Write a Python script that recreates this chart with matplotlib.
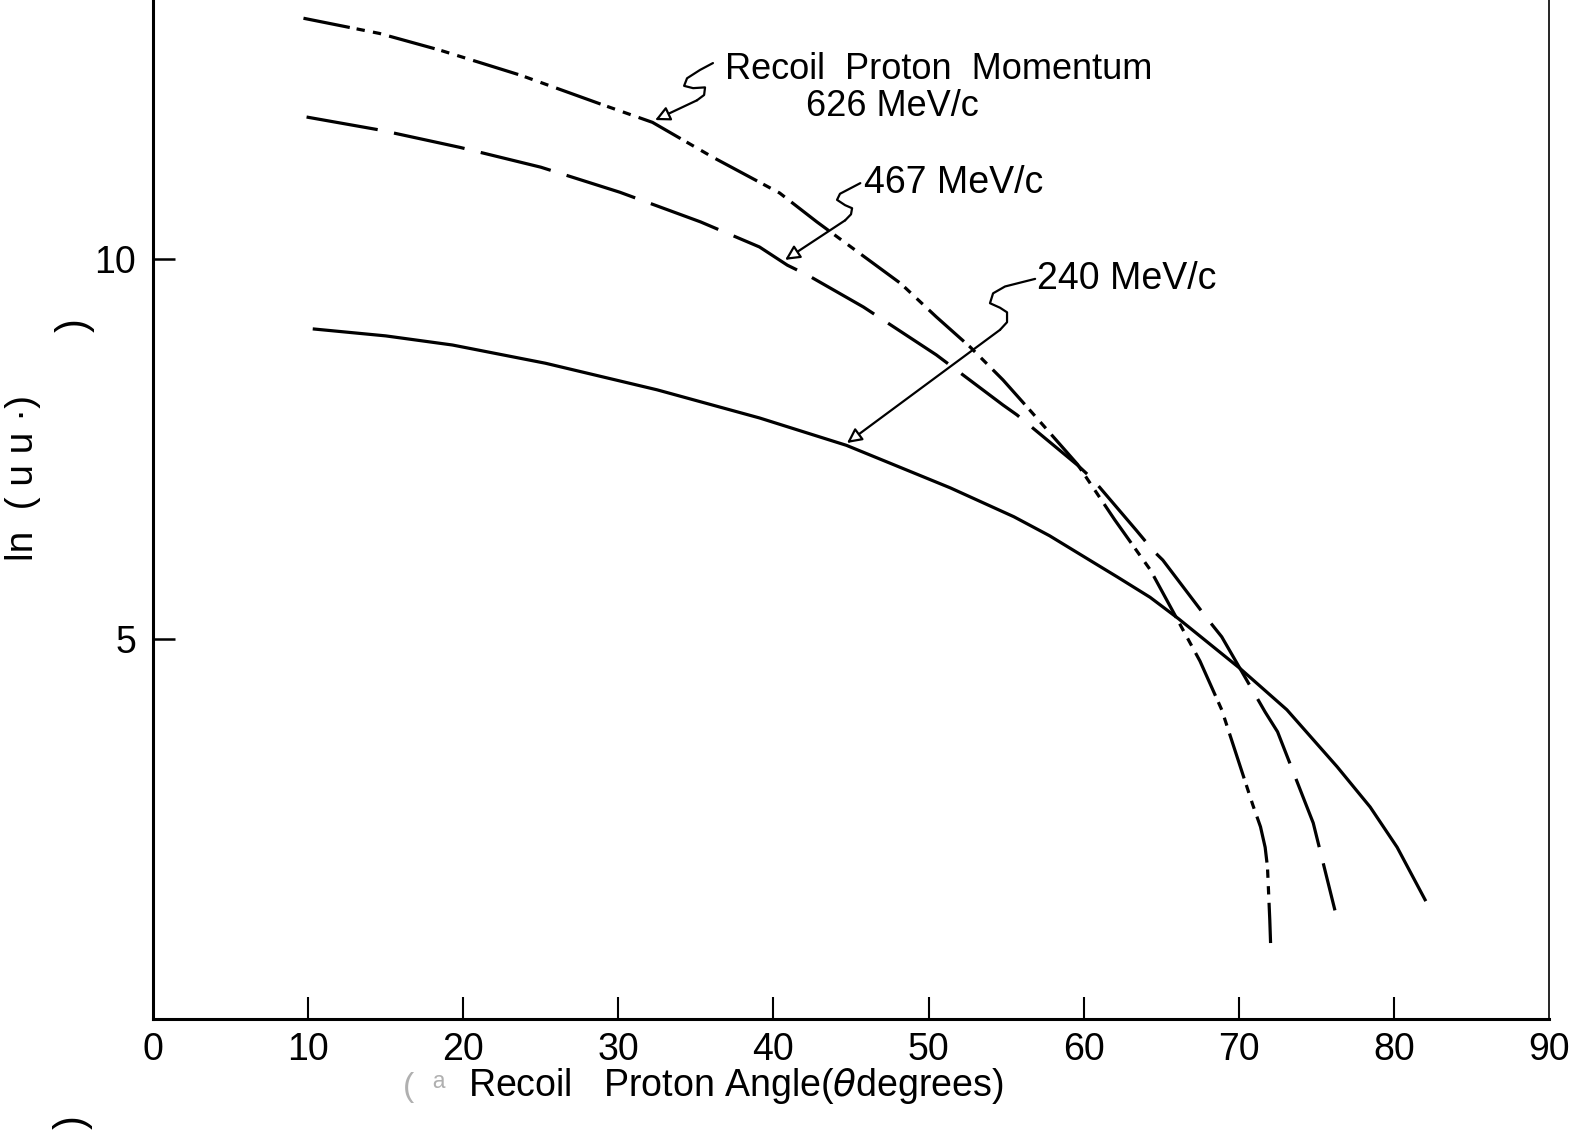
import matplotlib
matplotlib.use("Agg")
import matplotlib.pyplot as plt

plt.rcParams['font.family'] = ['Liberation Sans', 'DejaVu Sans']
plt.rcParams['lines.scale_dashes'] = False

# ---- data ----
deg626 = [9.7, 14.6, 18.5, 23.7, 29.0, 32.2, 36.1, 40.4, 42.8, 48.2, 50.5, 52.7,
          54.8, 56.5, 59.6, 62.0, 63.6, 64.3, 67.5, 68.9, 70.9, 71.4, 71.7, 71.85,
          72.0, 72.05]
ln626 = [13.17, 12.97, 12.75, 12.42, 12.03, 11.80, 11.34, 10.87, 10.49, 9.68, 9.24, 8.84,
         8.41, 8.02, 7.30, 6.57, 6.11, 5.91, 4.71, 4.07, 2.82, 2.53, 2.26, 2.00,
         1.30, 1.00]

deg467 = [9.9, 14.6, 19.8, 25.0, 30.1, 35.3, 39.1, 40.9, 42.2, 45.8, 50.5, 54.8,
          55.7, 59.6, 60.6, 63.4, 64.5, 65.1, 68.0, 68.9, 71.7, 72.5, 74.3, 74.8, 76.2]
ln467 = [11.87, 11.70, 11.47, 11.21, 10.88, 10.49, 10.16, 9.92, 9.79, 9.37, 8.74, 8.08,
         7.95, 7.29, 7.10, 6.43, 6.16, 6.04, 5.26, 5.03, 4.04, 3.78, 2.84, 2.58, 1.43]

deg240 = [10.4, 15.0, 19.3, 25.3, 32.5, 39.1, 44.7, 51.4, 55.5, 57.8, 61.1, 62.15,
          64.28, 66.1, 70.1, 73.1, 76.34, 78.47, 80.21, 82.01]
ln240 = [9.08, 8.99, 8.87, 8.63, 8.28, 7.91, 7.55, 6.99, 6.61, 6.36, 5.95, 5.82,
         5.55, 5.27, 4.61, 4.07, 3.32, 2.79, 2.26, 1.57]

x_ticks = [10, 20, 30, 40, 50, 60, 70, 80]
x_label_pos = [0, 10, 20, 30, 40, 50, 60, 70, 80, 90]
x_labels = ["0", "10", "20", "30", "40", "50", "60", "70", "80", "90"]
y_ticks = [5, 10]
y_labels = ["5", "10"]

labels = ["626 MeV/c", "467 MeV/c", "240 MeV/c"]

# leader lines (annotation squiggles) in data coordinates: last point is arrow tip
lead626 = [(36.1, 12.58), (35.27, 12.49), (34.43, 12.38), (34.24, 12.28), (34.82, 12.25),
           (35.59, 12.26), (35.53, 12.16), (35.07, 12.09), (32.37, 11.83)]
lead467 = [(45.6, 11.0), (44.29, 10.86), (44.1, 10.78), (44.62, 10.71), (45.07, 10.67),
           (45.0, 10.59), (44.62, 10.51), (40.75, 9.99)]
lead240 = [(56.87, 9.74), (56.09, 9.70), (54.93, 9.64), (54.16, 9.55), (53.96, 9.42),
           (54.61, 9.36), (55.06, 9.30), (55.06, 9.17), (54.61, 9.07), (44.74, 7.58)]

fig = plt.figure(figsize=(15.79, 11.31), dpi=100)
ax = fig.add_axes([0.0969, 0.0990, 0.8841, 0.9010])
ax.set_xlim(0, 90)
ax.set_ylim(0, 13.41)

lw = 2.3
ax.plot(deg626, ln626, color='black', lw=lw, solid_joinstyle='round',
        dashes=(34, 5, 6, 6, 6, 6), dash_capstyle='butt', dash_joinstyle='round')
ax.plot(deg467, ln467, color='black', lw=lw, dashes=(52, 12),
        dash_capstyle='butt', dash_joinstyle='round')
ax.plot(deg240, ln240, color='black', lw=lw, solid_joinstyle='round')


def leader(pts):
    xs = [p[0] for p in pts[:-1]]
    ys = [p[1] for p in pts[:-1]]
    ax.plot(xs, ys, color='black', lw=1.6, solid_capstyle='round', solid_joinstyle='round')
    ax.annotate("", xy=pts[-1], xytext=pts[-2],
                arrowprops=dict(arrowstyle='-|>', color='black', lw=1.6,
                                fc='white', mutation_scale=22, shrinkA=0, shrinkB=0))


leader(lead626)
leader(lead467)
leader(lead240)

ax.text(36.9, 12.37, "Recoil  Proton  Momentum", ha='left', va='baseline', fontsize=26)
ax.text(42.1, 11.88, labels[0], ha='left', va='baseline', fontsize=26)
ax.text(45.85, 10.87, labels[1], ha='left', va='baseline', fontsize=27)
ax.text(57.0, 9.61, labels[2], ha='left', va='baseline', fontsize=27)

# axes styling
ax.spines['top'].set_visible(False)
ax.spines['left'].set_linewidth(2.2)
ax.spines['bottom'].set_linewidth(2.2)
ax.spines['right'].set_linewidth(1.2)

ax.set_xticks(x_ticks)
ax.set_xticklabels([])
ax.set_yticks(y_ticks)
ax.set_yticklabels(y_labels, fontsize=27)
ax.tick_params(axis='x', direction='in', length=16, width=1.5, top=False)
ax.tick_params(axis='y', direction='in', length=16, width=1.8, pad=12)

for xv, lab in zip(x_label_pos, x_labels):
    ax.annotate(lab, xy=(xv, 0), xycoords=('data', 'axes fraction'),
                xytext=(0, -9), textcoords='offset points',
                ha='center', va='top', fontsize=27)

fig.text(0.2964, 0.031, "Recoil   Proton Angle($\\theta$degrees)", fontsize=27,
         ha='left', va='baseline')
fig.text(0.255, 0.031, "(  ᵃ", fontsize=24, color='#b0b0b0', ha='left', va='baseline')

# y-axis label fragments (scan)
fig.text(0.0146, 0.5775, "ln  ( u u ·)", rotation=90, fontsize=28,
         ha='center', va='center')
fig.text(0.0475, 0.713, ")", rotation=90, fontsize=30, ha='center', va='center')
fig.text(0.046, 0.002, ")", rotation=90, fontsize=30, ha='center', va='bottom')

fig.savefig("out.png", dpi=100)
